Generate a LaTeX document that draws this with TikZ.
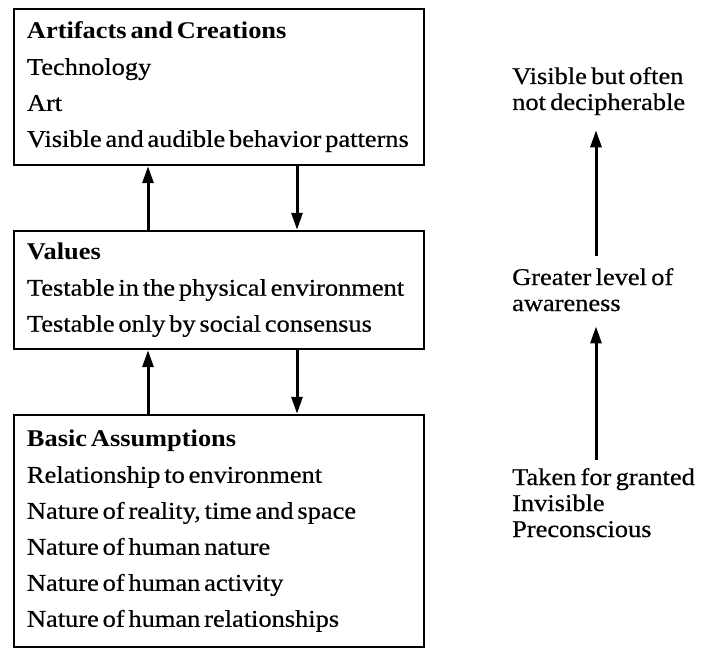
\documentclass[tikz,border=0pt]{standalone}
\usepackage{fontspec}
\setmainfont{Liberation Serif}[FakeStretch=1.1,WordSpace=0.65,UprightFeatures={FakeBold=0.5}]
\usetikzlibrary{arrows.meta,positioning}

\tikzset{
  layer/.style={draw, line width=2.4pt, align=flush left, text width=384pt,
    inner xsep=13pt, inner ysep=0pt, minimum width=410pt,
    font=\fontsize{24}{36}\selectfont,
    execute at begin node={\spaceskip=0.16em plus 0.05em\relax}},
  note/.style={align=left, inner sep=0pt, font=\fontsize{24}{26}\selectfont},
  arr/.style={line width=3pt, -{Triangle[length=17pt,width=11pt]}},
}

\begin{document}
\begin{tikzpicture}[x=1pt,y=-1pt]
  \useasboundingbox (0,0) rectangle (710,650);

  % the three levels
  \node[layer, minimum height=156pt] (artifacts) at (219,87)
    {\textbf{Artifacts and Creations}\\ Technology\\ Art\\ Visible and audible behavior patterns};
  \node[layer, minimum height=118pt] (values) at (219,290)
    {\textbf{Values}\\ Testable in the physical environment\\ Testable only by social consensus};
  \node[layer, minimum height=232pt] (assumptions) at (219,531)
    {\textbf{Basic Assumptions}\\ Relationship to environment\\ Nature of reality, time and space\\
     Nature of human nature\\ Nature of human activity\\ Nature of human relationships};

  % lanes of the arrows between the boxes
  \coordinate (up) at (148,0);
  \coordinate (down) at (297,0);
  \draw[arr] (values.north -| up) -- (artifacts.south -| up);
  \draw[arr] (artifacts.south -| down) -- (values.north -| down);
  \draw[arr] (assumptions.north -| up) -- (values.south -| up);
  \draw[arr] (values.south -| down) -- (assumptions.north -| down);

  % awareness scale
  \node[note, anchor=base west] (visible) at (512,110) {Visible but often\\not decipherable};
  \node[note, anchor=base west] (greater) at (512,311) {Greater level of\\awareness};
  \node[note, anchor=base west] (taken) at (512,537) {Taken for granted\\Invisible\\Preconscious};
  \coordinate (lane) at (596,0);
  \draw[arr, shorten <=12pt, shorten >=15pt] (greater.north -| lane) -- (visible.south -| lane);
  \draw[arr, shorten <=8pt, shorten >=15pt] (taken.north -| lane) -- (greater.south -| lane);
\end{tikzpicture}
\end{document}
